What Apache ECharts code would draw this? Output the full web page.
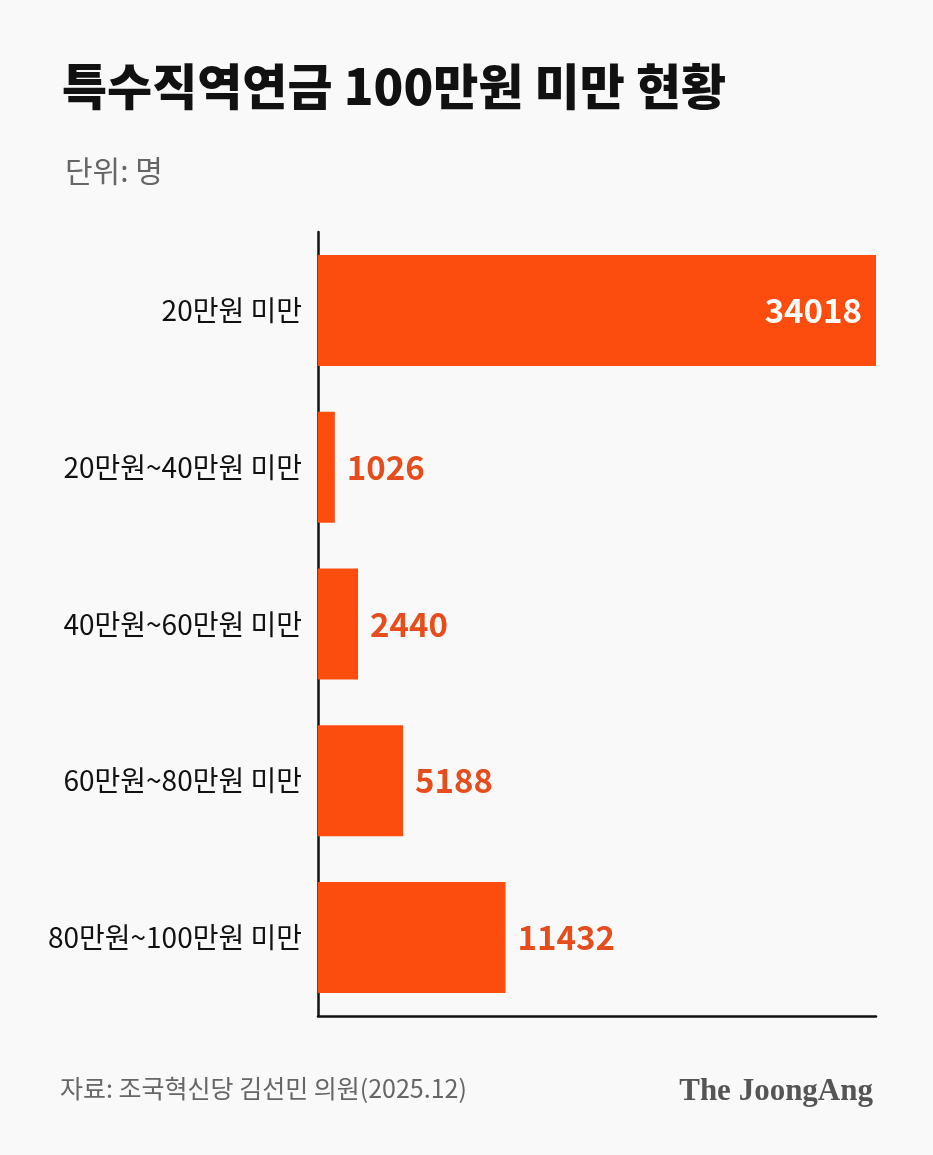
<!DOCTYPE html>
<html>
<head>
<meta charset="utf-8">
<script src="https://cdn.jsdelivr.net/npm/echarts@6/dist/echarts.min.js"></script>
<style>
html,body{margin:0;padding:0;background:#f9f9f9;}
#c{width:933px;height:1155px;}
</style>
</head>
<body>
<div id="c"></div>
<script>
const titleText = '특수직역연금 100만원 미만 현황';
const unitText = '단위: 명';
const sourceText = '자료: 조국혁신당 김선민 의원(2025.12)';
const logoText = 'The JoongAng';
const categories = ['20만원 미만', '20만원~40만원 미만', '40만원~60만원 미만', '60만원~80만원 미만', '80만원~100만원 미만'];
const values = [34018, 1026, 2440, 5188, 11432];

const FONT = '"Noto Sans CJK KR", "Noto Sans", sans-serif';
const BAR = '#fc4c0e';
const LABEL = '#e64d1c';

const chart = echarts.init(document.getElementById('c'));
chart.setOption({
  backgroundColor: '#f9f9f9',
  animation: false,
  title: [
    { text: titleText, left: 57, top: 57, textStyle: { fontFamily: FONT, fontSize: 49, fontWeight: 900, color: '#111' } },
    { text: unitText, left: 60, top: 151, textStyle: { fontFamily: FONT, fontSize: 30, fontWeight: 400, color: '#666' } },
    { text: sourceText, left: 55, top: 1071, textStyle: { fontFamily: FONT, fontSize: 25, fontWeight: 400, color: '#666' } },
    { text: logoText, right: 55, top: 1071, textStyle: { fontFamily: '"Liberation Serif", serif', fontSize: 31, fontWeight: 'bold', color: '#555' } }
  ],
  grid: { left: 318, right: 57, top: 232, bottom: 139, containLabel: false },
  xAxis: {
    type: 'value', min: 0, max: 34018,
    axisLine: { show: true, lineStyle: { color: '#111', width: 2.5 } },
    axisTick: { show: false }, axisLabel: { show: false }, splitLine: { show: false }
  },
  yAxis: {
    type: 'category', data: categories, inverse: true,
    axisLine: { show: true, lineStyle: { color: '#111', width: 2.5 } },
    axisTick: { show: false },
    axisLabel: { margin: 16, fontFamily: FONT, fontSize: 28, color: '#111' }
  },
  series: [{
    type: 'bar',
    data: values.map((v, i) => ({
      value: v,
      label: i === 0
        ? { show: true, position: 'insideRight', distance: 14, color: '#fff' }
        : { show: true, position: 'right', distance: 12, color: LABEL }
    })),
    barWidth: 111,
    itemStyle: { color: BAR },
    label: { fontFamily: FONT, fontSize: 33, fontWeight: 'bold' }
  }]
});
</script>
</body>
</html>
